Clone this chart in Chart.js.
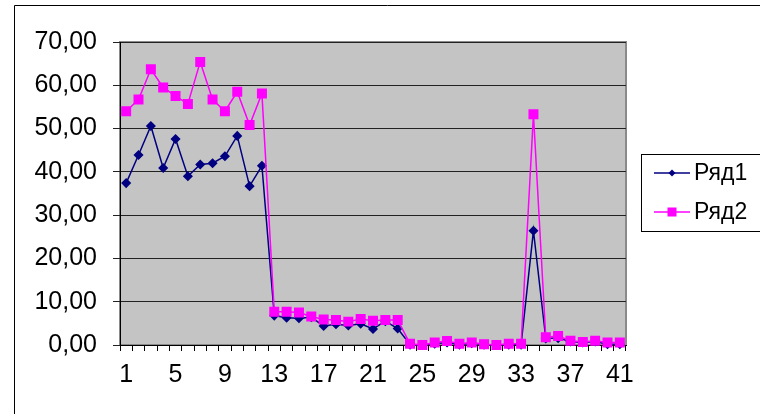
<!DOCTYPE html>
<html>
<head>
<meta charset="utf-8">
<script src="https://cdn.jsdelivr.net/npm/chart.js@4/dist/chart.umd.min.js"></script>
<style>
  html, body { margin: 0; padding: 0; background: #fff; }
  #wrap { width: 760px; height: 414px; position: relative; }
</style>
</head>
<body>
<div id="wrap"><canvas id="myChart" width="760" height="414"></canvas></div>
<script>
const labels = ['1','2','3','4','5','6','7','8','9','10','11','12','13','14','15','16','17','18','19','20',
  '21','22','23','24','25','26','27','28','29','30','31','32','33','34','35','36','37','38','39','40','41'];

const row1 = [37.4, 43.9, 50.6, 40.9, 47.6, 39.0, 41.7, 42.0, 43.6, 48.3, 36.7, 41.4,
  6.8, 6.3, 6.2, 6.4, 4.4, 4.8, 4.5, 4.9, 3.7, 5.5, 3.8,
  0.1, 0.0, 0.3, 0.6, 0.1, 0.4, 0.1, 0.0, 0.1, 0.1, 26.4,
  1.5, 1.6, 0.8, 0.6, 0.8, 0.2, 0.2];

const row2 = [54.0, 56.7, 63.7, 59.5, 57.5, 55.7, 65.4, 56.7, 54.0, 58.5, 50.8, 58.1,
  7.7, 7.7, 7.5, 6.6, 5.9, 5.8, 5.4, 6.0, 5.6, 5.8, 5.8,
  0.3, 0.0, 0.6, 0.9, 0.3, 0.6, 0.2, 0.0, 0.3, 0.3, 53.3,
  1.8, 2.1, 1.0, 0.7, 1.0, 0.6, 0.6];

const seriesNames = ['Ряд1', 'Ряд2'];

const fontFamily = '"Liberation Sans", Arial, sans-serif';

const plotBack = {
  id: 'plotBack',
  beforeDraw(chart) {
    const ctx = chart.ctx;
    const a = chart.chartArea;
    ctx.save();
    // outer frame
    ctx.strokeStyle = '#000';
    ctx.lineWidth = 1;
    ctx.beginPath();
    ctx.moveTo(14.5, 414);
    ctx.lineTo(14.5, 5.5);
    ctx.lineTo(760, 5.5);
    ctx.stroke();
    // plot area
    ctx.fillStyle = '#c4c4c4';
    ctx.fillRect(a.left, a.top, a.right - a.left, a.bottom - a.top);
    ctx.strokeStyle = '#8a8a8a';
    ctx.lineWidth = 2;
    ctx.strokeRect(a.left, a.top, a.right - a.left, a.bottom - a.top);
    ctx.restore();
  }
};

const boxLegend = {
  id: 'boxLegend',
  afterDraw(chart) {
    const ctx = chart.ctx;
    ctx.save();
    ctx.fillStyle = '#fff';
    ctx.fillRect(641, 154, 130, 77);
    ctx.strokeStyle = '#000';
    ctx.lineWidth = 1;
    ctx.strokeRect(641.5, 154.5, 130, 77);
    const rows = [173, 212];
    chart.data.datasets.forEach((ds, i) => {
      const y = rows[i];
      ctx.strokeStyle = ds.borderColor;
      ctx.lineWidth = 1.5;
      ctx.beginPath();
      ctx.moveTo(654, y);
      ctx.lineTo(690, y);
      ctx.stroke();
      ctx.fillStyle = ds.pointBackgroundColor;
      ctx.beginPath();
      if (ds.pointStyle === 'rect') {
        ctx.rect(672 - 4.5, y - 4.5, 9, 9);
      } else {
        ctx.moveTo(672 - 3.5, y);
        ctx.lineTo(672, y - 3.5);
        ctx.lineTo(672 + 3.5, y);
        ctx.lineTo(672, y + 3.5);
        ctx.closePath();
      }
      ctx.fill();
      ctx.fillStyle = '#000';
      ctx.font = '23px ' + fontFamily;
      ctx.textBaseline = 'middle';
      ctx.textAlign = 'left';
      ctx.fillText(ds.label, 694, y + 1);
    });
    ctx.restore();
  }
};

const data = {
  labels: labels,
  datasets: [{
    label: seriesNames[0],
    data: row1,
    borderColor: '#000080',
    backgroundColor: '#000080',
    pointBackgroundColor: '#000080',
    pointBorderColor: '#000080',
    pointStyle: 'rectRot',
    pointRadius: 4,
    borderWidth: 1.5,
    tension: 0,
    clip: false,
    order: 1
  },
  {
    label: seriesNames[1],
    data: row2,
    borderColor: '#ff00ff',
    backgroundColor: '#ff00ff',
    pointBackgroundColor: '#ff00ff',
    pointBorderColor: '#ff00ff',
    pointStyle: 'rect',
    pointRadius: 6,
    borderWidth: 1.5,
    tension: 0,
    clip: false,
    order: 0
  }]
};

const config = {
  type: 'line',
  data: data,
  options: {
    responsive: false,
    animation: false,
    layout: {
      padding: { left: 0, right: 134, top: 42, bottom: 0 }
    },
    plugins: {
      legend: { display: false },
      tooltip: { enabled: false }
    },
    scales: {
      x: {
        type: 'category',
        offset: true,
        afterFit: s => { s.height = 69; },
        grid: {
          offset: true,
          drawOnChartArea: false,
          color: '#000',
          tickLength: 6
        },
        border: { color: '#000', width: 1 },
        ticks: {
          autoSkip: false,
          maxRotation: 0,
          minRotation: 0,
          padding: 9,
          color: '#000',
          font: { family: fontFamily, size: 25 },
          callback: function(val, i) { return i % 4 === 0 ? labels[i] : ''; }
        }
      },
      y: {
        min: 0,
        max: 70,
        afterFit: s => { s.width = 120; },
        grid: {
          color: '#222',
          tickLength: 7
        },
        border: { color: '#000', width: 1 },
        ticks: {
          stepSize: 10,
          padding: 16,
          color: '#000',
          font: { family: fontFamily, size: 25 },
          callback: v => v.toFixed(2).replace('.', ',')
        }
      }
    }
  },
  plugins: [plotBack, boxLegend]
};

var thisChart = new Chart(
  document.getElementById('myChart'),
  config
);
</script>
</body>
</html>
